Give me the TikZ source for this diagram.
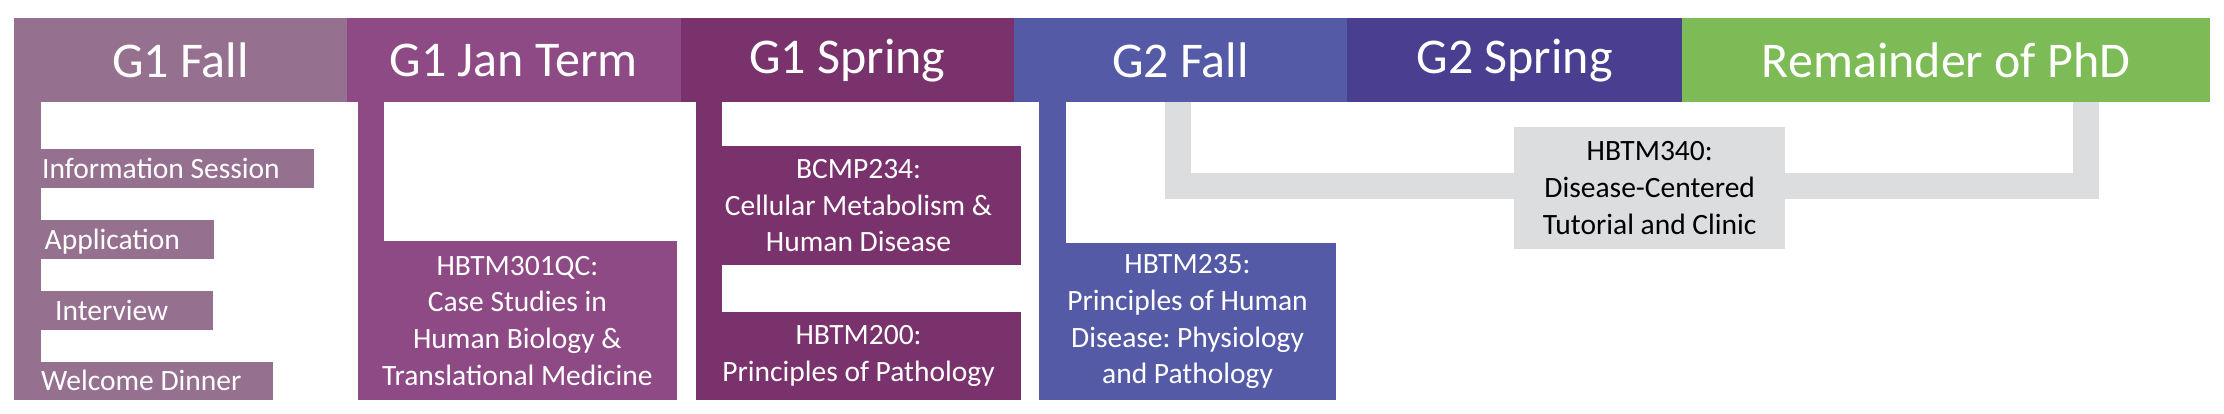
\documentclass[tikz,border=0pt]{standalone}
\usepackage{fontspec}
\setmainfont{Carlito}
\frenchspacing
\definecolor{cA}{RGB}{150,113,143}
\definecolor{cB}{RGB}{141,74,133}
\definecolor{cC}{RGB}{122,50,108}
\definecolor{cD}{RGB}{84,90,166}
\definecolor{cE}{RGB}{74,62,145}
\definecolor{cF}{RGB}{124,187,86}
\definecolor{cG}{RGB}{220,221,223}
\begin{document}
\begin{tikzpicture}[x=1pt,y=-1pt,
  hdr/.style={anchor=north west,inner sep=0pt,minimum height=83.4pt,text=white,
    font=\fontsize{50}{60}\selectfont},
  crs/.style={anchor=north west,inner sep=0pt,text=white,align=center,
    font=\fontsize{29.5}{36.7}\selectfont},
  evt/.style={anchor=north west,inner sep=0pt,minimum height=38.7pt,text=white,
    text height=19pt,text depth=0pt,fill=cA,
    font=\fontsize{29.5}{36.7}\selectfont},
  conn/.style={line width=26pt,draw=cG}
]
\useasboundingbox (0,0) rectangle (2224,414);
% headers
\node[hdr,fill=cA,minimum width=332.8pt] (h1) at (13.8,18.3) {G1 Fall};
\node[hdr,fill=cB,minimum width=333.8pt] (h2) at (346.6,18.3) {G1 Jan Term};
\node[hdr,fill=cC,minimum width=333.4pt] (h3) at (680.4,18.3) {G1 Spring};
\node[hdr,fill=cD,minimum width=332.9pt] (h4) at (1013.8,18.3) {G2 Fall};
\node[hdr,fill=cE,minimum width=335.5pt] (h5) at (1346.7,18.3) {G2 Spring};
\node[hdr,fill=cF,minimum width=527.6pt] (h6) at (1682.2,18.3) {Remainder of PhD};
% G1 Fall events
\node[evt] (info) at (40.9,149) {\makebox[272.7pt][l]{\hspace*{1pt}Information Session}};
\node[evt] (app) at (40.9,220) {\makebox[172.6pt][l]{\hspace*{3.6pt}Application}};
\node[evt] (intv) at (40.9,291) {\makebox[171.7pt][l]{\hspace*{14pt}Interview}};
\node[evt] (wd) at (13.8,361.5) {\makebox[258.9pt][l]{\hspace*{27.2pt}Welcome Dinner}};
\fill[cA] (h1.south west) rectangle ([xshift=27.1pt]wd.north west);
% G1 Jan Term
\node[crs,fill=cB,minimum width=318.3pt,minimum height=159pt] (c301) at (358,241)
  {HBTM301QC:\\Case Studies in\\Human Biology \&\\Translational Medicine};
\fill[cB] (c301.north west |- h2.south) rectangle ([xshift=25.8pt]c301.north west);
% G1 Spring
\node[crs,fill=cC,minimum width=324.7pt,minimum height=119.3pt] (bcmp) at (696,145.7)
  {BCMP234:\\Cellular Metabolism \&\\Human Disease};
\node[crs,fill=cC,minimum width=324.7pt,minimum height=88.3pt] (hb200) at (696,311.7)
  {HBTM200:\\Principles of Pathology};
\fill[cC] (bcmp.north west |- h3.south) rectangle ([xshift=25.8pt]hb200.north west);
% G2 Fall
\node[crs,fill=cD,minimum width=296.6pt,minimum height=157pt] (hb235) at (1039,243)
  {HBTM235:\\Principles of Human\\Disease: Physiology\\and Pathology};
\fill[cD] (hb235.north west |- h4.south) rectangle ([xshift=26.7pt]hb235.north west);
% HBTM340 connector
\coordinate (g1) at (1178.4,101.7);
\coordinate (gm) at (1650,186.2);
\coordinate (g2) at (2085.5,101.7);
\draw[conn] (g1) |- (gm) -| (g2);
\node[crs,fill=cG,text=black,minimum width=270.6pt,minimum height=121.7pt] (hb340) at (1514.2,127)
  {HBTM340:\\Disease-Centered\\Tutorial and Clinic};
\end{tikzpicture}
\end{document}
